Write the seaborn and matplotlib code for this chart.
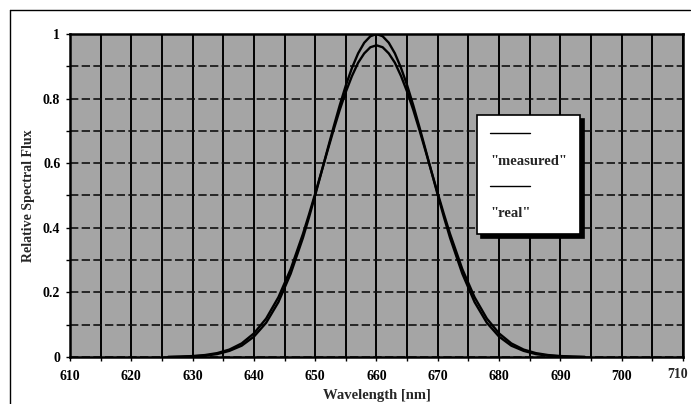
import numpy as np
import pandas as pd
import matplotlib.pyplot as plt
import seaborn as sns
from matplotlib.lines import Line2D
from matplotlib.ticker import MultipleLocator, FuncFormatter

# values (wavelength in nm)
wavelength = [626, 628, 630, 632, 634, 636, 638, 640, 642, 644, 646, 648,
              649, 650, 651, 652, 653, 654, 655, 656, 657, 658, 659, 660,
              661, 662, 663, 664, 665, 666, 667, 668, 669, 670, 671,
              672, 674, 676, 678, 680, 682, 684, 686, 688, 690, 692, 694]
measured = [0.000, 0.001, 0.003, 0.006, 0.012, 0.023, 0.042, 0.073, 0.119,
            0.185, 0.272, 0.381, 0.442, 0.506, 0.572, 0.638, 0.703, 0.765,
            0.821, 0.870, 0.911, 0.940, 0.959, 0.965, 0.959, 0.940, 0.911,
            0.870, 0.821, 0.765, 0.703, 0.638, 0.572, 0.506, 0.442, 0.381,
            0.272, 0.185, 0.119, 0.073, 0.042, 0.023, 0.012, 0.006, 0.003,
            0.001, 0.000]
real = [0.000, 0.001, 0.002, 0.004, 0.009, 0.019, 0.035, 0.063, 0.106,
        0.170, 0.258, 0.369, 0.433, 0.501, 0.571, 0.642, 0.712, 0.779,
        0.841, 0.895, 0.940, 0.973, 0.993, 1.000, 0.993, 0.973, 0.940,
        0.895, 0.841, 0.779, 0.712, 0.642, 0.571, 0.501, 0.433, 0.369,
        0.258, 0.170, 0.106, 0.063, 0.035, 0.019, 0.009, 0.004, 0.002,
        0.001, 0.000]

df = pd.DataFrame({"wavelength": wavelength, "measured": measured, "real": real})

sns.set_style("ticks")
plt.rcParams['font.family'] = ['Liberation Serif', 'DejaVu Serif']
plt.rcParams['font.weight'] = 'bold'

fig = plt.figure(figsize=(6.91, 4.04), dpi=100)
ax = fig.add_axes([70/691, 1 - 357/404, 613/691, 323/404])
ax.set_facecolor('#a5a5a5')

sns.lineplot(data=df, x="wavelength", y="measured", ax=ax, color='black', lw=1.7)
sns.lineplot(data=df, x="wavelength", y="real", ax=ax, color='black', lw=1.7)

ax.set_xlim(610, 710)
ax.set_ylim(0, 1)
ax.xaxis.set_major_locator(MultipleLocator(10))
ax.xaxis.set_minor_locator(MultipleLocator(5))
ax.yaxis.set_major_locator(MultipleLocator(0.2))
ax.yaxis.set_minor_locator(MultipleLocator(0.1))
ax.yaxis.set_major_formatter(FuncFormatter(lambda v, p: f"{v:g}"))
# the 710 label sits right at the page edge, drawn separately below
ax.xaxis.set_major_formatter(FuncFormatter(lambda v, p: "" if v >= 710 else f"{v:g}"))

ax.grid(True, which='both', axis='x', color='black', lw=1.4)
ax.grid(True, which='both', axis='y', color='#111111', lw=1.2, ls=(0, (5, 2)))
ax.set_axisbelow(True)

for s in ax.spines.values():
    s.set_color('black')
    s.set_linewidth(1.8)

ax.tick_params(which='both', direction='out', length=3, width=1, colors='black')
ax.tick_params(axis='x', which='major', pad=6, labelsize=10)
ax.tick_params(axis='y', which='major', pad=4, labelsize=10)

ax.annotate("710", xy=(710, 0), xycoords=('data', 'axes fraction'),
            xytext=(-4, -8.2), textcoords='offset points',
            ha='center', va='top', fontsize=10, fontweight='bold')

ax.set_xlabel("Wavelength [nm]", fontsize=10.5, fontweight='bold', labelpad=5)
ax.set_ylabel("Relative Spectral Flux", fontsize=10, fontweight='bold', labelpad=6)

# excel-style legend: line sample sits above its label
handles = [Line2D([], [], color='black', lw=1),
           Line2D([], [], ls='none'),
           Line2D([], [], color='black', lw=1),
           Line2D([], [], ls='none')]
labels = ['', '"measured"', '', '"real"']
leg = ax.legend(handles, labels, loc='upper left', bbox_to_anchor=(0.664, 0.749),
                fontsize=10.5, handlelength=2.7, handletextpad=-2.7,
                labelspacing=0.9, borderpad=0.9, borderaxespad=0,
                fancybox=False, framealpha=1, edgecolor='black',
                shadow={'color': 'black', 'alpha': 1, 'ox': 3, 'oy': -3})
leg.get_frame().set_linewidth(1.2)

# scanned page border (top and left)
fig.add_artist(Line2D([10/691, 690/691], [1 - 10/404, 1 - 10/404], color='black', lw=1))
fig.add_artist(Line2D([10/691, 10/691], [0, 1 - 10/404], color='black', lw=1))

fig.savefig("out.png", dpi=100)
